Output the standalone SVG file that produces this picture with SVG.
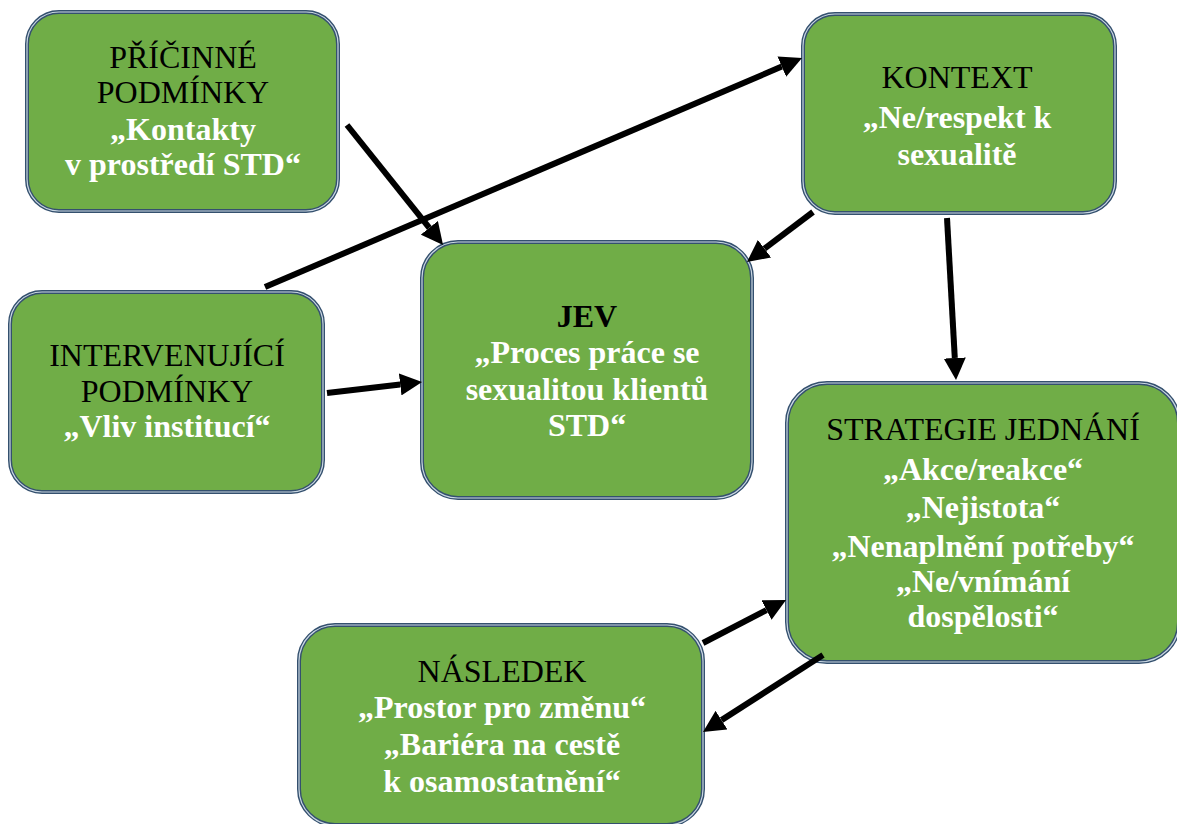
<svg xmlns="http://www.w3.org/2000/svg" width="1177" height="824" viewBox="0 0 1177 824">
<style>
.box{fill:#70AD47;stroke:#34506e;stroke-width:4}
.inner{fill:none;stroke:#c9d6e2;stroke-width:1.2}
text{font-family:'Liberation Serif','Tinos','Times New Roman','DejaVu Serif',serif;font-size:32px;text-anchor:middle}
.h{fill:#000}
.hb{fill:#000;font-weight:bold}
.q{fill:#fff;font-weight:bold}
.conn line{stroke:#000;stroke-width:6;marker-end:url(#ah)}
</style>
<defs>
<marker id="ah" markerUnits="userSpaceOnUse" markerWidth="22" markerHeight="22" viewBox="0 0 22 22" refX="0" refY="11" orient="auto">
<path d="M0,0 L22,11 L0,22 z" fill="#000"/>
</marker>
</defs>
<rect width="1177" height="824" fill="#fff"/>
<g id="pricinne">
<rect class="box" x="27" y="12" width="311" height="199" rx="32"/>
<rect class="inner" x="27" y="12" width="311" height="199" rx="32"/>
<text class="h" x="183" y="68" font-family="Liberation Serif, serif">PŘÍČINNÉ</text>
<text class="h" x="183" y="103">PODMÍNKY</text>
<text class="q" x="183" y="140">„Kontakty</text>
<text class="q" x="183" y="175">v prostředí STD“</text>
</g>
<g id="kontext">
<rect class="box" x="803" y="14" width="312" height="199" rx="32"/>
<rect class="inner" x="803" y="14" width="312" height="199" rx="32"/>
<text class="h" x="957" y="88">KONTEXT</text>
<text class="q" x="957" y="128">„Ne/respekt k</text>
<text class="q" x="957" y="165">sexualitě</text>
</g>
<g id="jev">
<rect class="box" x="422" y="242" width="330" height="256" rx="36"/>
<rect class="inner" x="422" y="242" width="330" height="256" rx="36"/>
<text class="hb" x="587" y="327">JEV</text>
<text class="q" x="587" y="363">„Proces práce se</text>
<text class="q" x="587" y="400">sexualitou klientů</text>
<text class="q" x="587" y="436">STD“</text>
</g>
<g id="intervenujici">
<rect class="box" x="10" y="292" width="313" height="200" rx="32"/>
<rect class="inner" x="10" y="292" width="313" height="200" rx="32"/>
<text class="h" x="167" y="366">INTERVENUJÍCÍ</text>
<text class="h" x="167" y="402">PODMÍNKY</text>
<text class="q" x="167" y="437">„Vliv institucí“</text>
</g>
<g id="strategie">
<rect class="box" x="787" y="383" width="392" height="279" rx="40"/>
<rect class="inner" x="787" y="383" width="392" height="279" rx="40"/>
<text class="h" x="983" y="440">STRATEGIE JEDNÁNÍ</text>
<text class="q" x="983" y="480">„Akce/reakce“</text>
<text class="q" x="983" y="518">„Nejistota“</text>
<text class="q" x="983" y="557">„Nenaplnění potřeby“</text>
<text class="q" x="983" y="592">„Ne/vnímání</text>
<text class="q" x="983" y="627">dospělosti“</text>
</g>
<g id="nasledek">
<rect class="box" x="299" y="625" width="404" height="200" rx="36"/>
<rect class="inner" x="299" y="625" width="404" height="200" rx="36"/>
<text class="h" x="502" y="682">NÁSLEDEK</text>
<text class="q" x="502" y="718">„Prostor pro změnu“</text>
<text class="q" x="502" y="755">„Bariéra na cestě</text>
<text class="q" x="502" y="792">k osamostatnění“</text>
</g>
<g id="connectors" class="conn">
<line x1="347" y1="125" x2="429.3" y2="227.8"/>
<line x1="265" y1="287" x2="781.8" y2="66.6"/>
<line x1="327" y1="393" x2="400.2" y2="384.5"/>
<line x1="813" y1="212" x2="764.5" y2="248.7"/>
<line x1="947" y1="218" x2="954.8" y2="358"/>
<line x1="703" y1="643" x2="766.5" y2="610.1"/>
<line x1="823" y1="655" x2="721.5" y2="720.1"/>
</g>
</svg>
